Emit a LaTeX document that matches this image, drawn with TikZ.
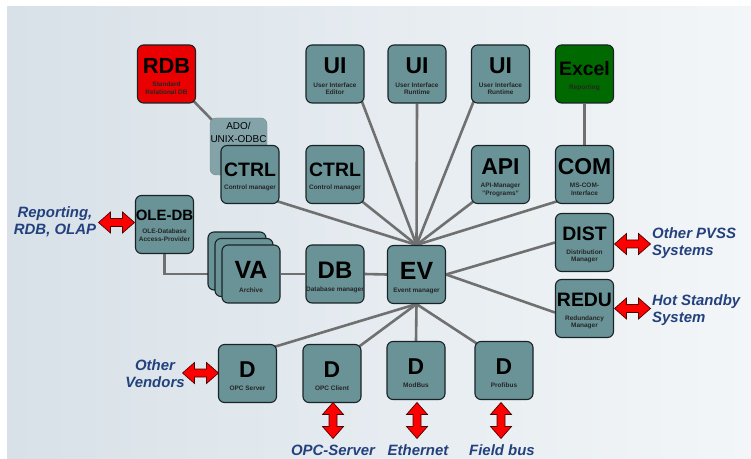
\documentclass[tikz,border=0pt]{standalone}
\usepackage{fontspec}
\setmainfont{Liberation Sans}
\usetikzlibrary{calc}
\pgfdeclarelayer{bglayer}
\pgfdeclarelayer{lines}
\pgfsetlayers{bglayer,lines,main}
\definecolor{boxc}{RGB}{106,147,152}
\definecolor{boxd}{RGB}{25,35,38}
\definecolor{adoc}{RGB}{132,163,169}
\definecolor{rdbc}{RGB}{235,0,0}
\definecolor{xlc}{RGB}{0,105,0}
\definecolor{linec}{RGB}{112,112,112}
\definecolor{labc}{RGB}{35,65,125}
\definecolor{arrc}{RGB}{255,0,0}
\definecolor{bgl}{RGB}{216,225,232}
\definecolor{bgr}{RGB}{243,246,248}
\newcommand\tit[2]{\fontsize{#1}{#1}\selectfont\bfseries\rule{0pt}{1em}#2}
\newcommand\sbt[1]{{\fontsize{6.5}{7.5}\selectfont\bfseries\color{black!85}\begin{tabular}[t]{@{}c@{}}#1\end{tabular}}}
\begin{document}
\begin{tikzpicture}[x=1bp,y=-1bp,
 box/.style={draw=boxd,line width=1.1bp,fill=boxc,rounded corners=6bp,minimum width=58bp,minimum height=58bp,inner sep=0pt,align=center,text=black},
 conn/.style={draw=linec,line width=2.6bp},
 lab/.style={text=labc,font=\fontsize{15}{17}\selectfont\bfseries\itshape,inner sep=0pt},
 dbl/.pic={\filldraw[fill=arrc,draw=black!70!red,line width=0.7bp,line join=miter] (-18,0) -- (-6,-10.5) -- (-6,-4) -- (6,-4) -- (6,-10.5) -- (18,0) -- (6,10.5) -- (6,4) -- (-6,4) -- (-6,10.5) -- cycle;}
]
\useasboundingbox (0,0) rectangle (751,459);
\begin{pgfonlayer}{bglayer}
\fill[white] (0,0) rectangle (751,459);
\shade[left color=bgl,right color=bgr] (7,7) rectangle (751,459);
\end{pgfonlayer}

% top row
\node[box,fill=rdbc] (rdb) at (166.5,74) {\tit{22}{RDB}\\[1.5pt]\sbt{Standard\\Relational DB}};
\node[box] (ui1) at (335,74) {\tit{23}{UI}\\[1.5pt]\sbt{User Interface\\Editor}};
\node[box] (ui2) at (417,74) {\tit{23}{UI}\\[1.5pt]\sbt{User Interface\\Runtime}};
\node[box] (ui3) at (500.5,74) {\tit{23}{UI}\\[1.5pt]\sbt{User Interface\\Runtime}};
\node[box,fill=xlc] (excel) at (584.5,74) {\tit{19.5}{Excel}\\[1.5pt]\sbt{Reporting}};

% ADO box
\node[draw=adoc!85!black,line width=0.4bp,fill=adoc,rounded corners=6bp,minimum width=57bp,minimum height=57bp,inner sep=0pt] (ado) at (238.5,146.5) {};
\node[font=\fontsize{10}{13}\selectfont,align=center,inner sep=0pt] (adot) at (238.5,132.5) {ADO/\\UNIX-ODBC};

% second row
\node[box] (ctrl1) at (250,174.5) {\tit{19.5}{CTRL}\\[1.5pt]\sbt{Control manager}};
\node[box] (ctrl2) at (335,174.5) {\tit{19.5}{CTRL}\\[1.5pt]\sbt{Control manager}};
\node[box] (api) at (500.5,174.5) {\tit{23}{API}\\[1.5pt]\sbt{API-Manager\\"Programs"}};
\node[box] (com) at (584.5,174.5) {\tit{23}{COM}\\[1.5pt]\sbt{MS-COM-\\Interface}};

% middle row
\node[box] (oledb) at (164.5,224.5) {\tit{15}{OLE-DB}\\[1.5pt]\sbt{OLE-Database\\Access-Provider}};
\node[box] (va3) at (237,261) {};
\node[box] (va2) at (244,267.5) {};
\node[box] (va) at (251,274) {\tit{25}{VA}\\[1.5pt]\sbt{Archive}};
\node[box] (db) at (335,274) {\tit{24}{DB}\\[1.5pt]\sbt{Database manager}};
\node[box] (ev) at (416.5,274.5) {\tit{25}{EV}\\[1.5pt]\sbt{Event manager}};
\node[box] (dist) at (584.5,242.5) {\tit{19.5}{DIST}\\[1.5pt]\sbt{Distribution\\Manager}};
\node[box] (redu) at (584.5,308.5) {\tit{19.5}{REDU}\\[1.5pt]\sbt{Redundancy\\Manager}};

% drivers
\node[box] (d1) at (247.5,373.5) {\tit{23}{D}\\[1.5pt]\sbt{OPC Server}};
\node[box] (d2) at (332,373.5) {\tit{23}{D}\\[1.5pt]\sbt{OPC Client}};
\node[box] (d3) at (416,370.5) {\tit{23}{D}\\[1.5pt]\sbt{ModBus}};
\node[box] (d4) at (504,370.5) {\tit{23}{D}\\[1.5pt]\sbt{Profibus}};

% connectors
\begin{pgfonlayer}{lines}
\draw[conn] (ev.north) -- ([shift={(-3,-3)}]ctrl1.south east);
\draw[conn] (ev.north) -- ([shift={(-3,-3)}]ctrl2.south east);
\draw[conn] (ev.north) -- ([shift={(-3,-3)}]ui1.south east);
\draw[conn] (ev.north) -- (ui2.south);
\draw[conn] (ev.north) -- ([shift={(3,-3)}]ui3.south west);
\draw[conn] (ev.north) -- ([shift={(3,-3)}]api.south west);
\draw[conn] (ev.north) -- ([shift={(3,-3)}]com.south west);
\draw[conn] (ev.east) -- (dist.west);
\draw[conn] (ev.east) -- ([yshift=-4bp]redu.west);
\draw[conn] (ev.south) -- ([shift={(-3,3)}]d1.north east);
\draw[conn] (ev.south) -- ([shift={(-3,3)}]d2.north east);
\draw[conn] (ev.south) -- (d3.north);
\draw[conn] (ev.south) -- ([shift={(3,3)}]d4.north west);
\draw[conn] (va.east) -- (db.west);
\draw[conn] (db.east) -- (ev.west);
\draw[conn] (oledb.south) |- (va.west);
\draw[conn] (excel.south) -- (com.north);
\draw[conn] ([shift={(-3,-3)}]rdb.south east) -- ([shift={(3,3)}]ado.north west);
\end{pgfonlayer}

% red double arrows
\pic at (116.5,222.5) {dbl};
\pic at (632.5,244) {dbl};
\pic at (632.5,308.5) {dbl};
\pic at (200.5,373) {dbl};
\pic[rotate=90] at (333,420.5) {dbl};
\pic[rotate=90] at (417,420.5) {dbl};
\pic[rotate=90] at (501,420.5) {dbl};

% labels
\node[lab,align=center] (rep) at (55,222) {Reporting,\\RDB, OLAP};
\node[lab,align=left,anchor=west] (pvss) at (652,243.5) {Other PVSS\\Systems};
\node[lab,align=left,anchor=west] (hot) at (652,310.5) {Hot Standby\\System};
\node[lab,align=center] (vend) at (155,373.5) {Other\\Vendors};
\node[lab] (opc) at (333,450) {OPC-Server};
\node[lab] (eth) at (418,450) {Ethernet};
\node[lab] (fb) at (502,450) {Field bus};
\end{tikzpicture}
\end{document}
